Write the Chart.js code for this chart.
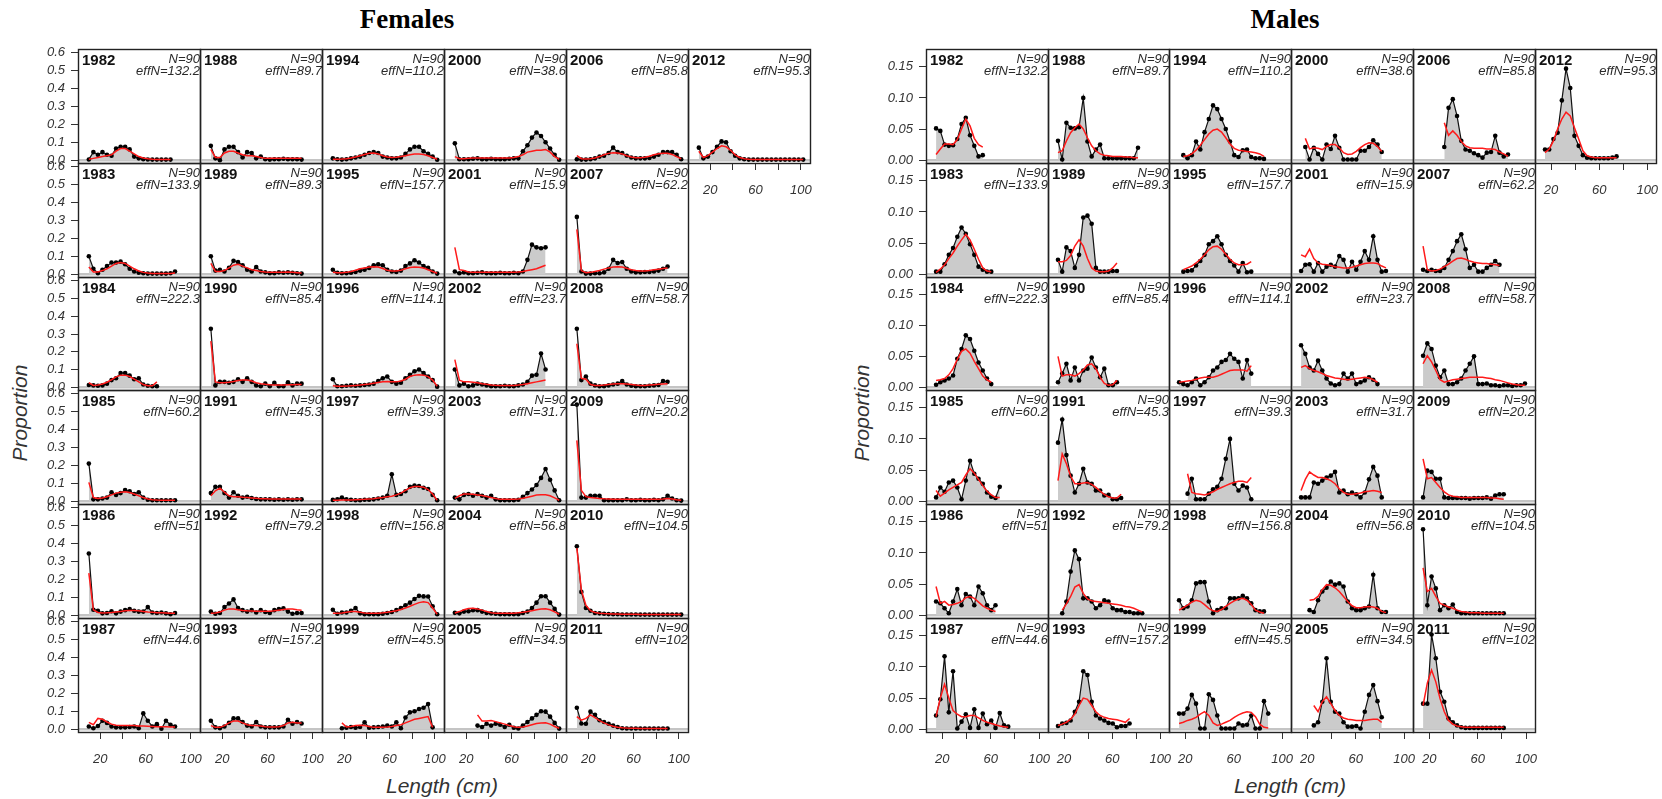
<!DOCTYPE html>
<html>
<head>
<meta charset="utf-8">
<script src="https://cdn.jsdelivr.net/npm/chart.js@4.4.0/dist/chart.umd.min.js"></script>
<style>
  html, body { margin: 0; padding: 0; background: #fff; }
  #stage { position: relative; width: 1662px; height: 799px; overflow: hidden; font-family: 'Liberation Sans', Arial, sans-serif; }
  #stage canvas { position: absolute; }
  .title { position: absolute; font-family: 'Liberation Serif', 'Times New Roman', serif; font-weight: bold; font-size: 27px; transform: translateX(-50%); white-space: nowrap; color: #000; }
  .xlab { position: absolute; font-style: italic; font-size: 21px; transform: translateX(-50%); white-space: nowrap; color: #333; }
  .ylab { position: absolute; font-style: italic; font-size: 21px; transform: translate(-50%, -50%) rotate(-90deg); white-space: nowrap; color: #333; }
</style>
</head>
<body>
<div id="stage">
  <div class="title" style="left:407px; top:4px;">Females</div>
  <div class="title" style="left:1285px; top:4px;">Males</div>
  <div class="ylab" style="left:20px; top:413px;">Proportion</div>
  <div class="ylab" style="left:862px; top:413px;">Proportion</div>
  <div class="xlab" style="left:442px; top:774px;">Length (cm)</div>
  <div class="xlab" style="left:1290px; top:774px;">Length (cm)</div>
</div>
<script>
// ---- survey years and sample sizes ----
const years = [1982,1983,1984,1985,1986,1987,1988,1989,1990,1991,1992,1993,1994,1995,1996,1997,
               1998,1999,2000,2001,2002,2003,2004,2005,2006,2007,2008,2009,2010,2011,2012];
const sampleN = 90;
const effN = ['132.2','133.9','222.3','60.2','51','44.6','89.7','89.3','85.4','45.3','79.2','157.2',
              '110.2','157.7','114.1','39.3','156.8','45.5','38.6','15.9','23.7','31.7','56.8','34.5',
              '85.8','62.2','58.7','20.2','104.5','102','95.3'];

// ---- length bins (cm) ----
const femaleLengths = [10,14,18,22,26,30,34,38,42,46,50,54,58,62,66,70,74,78,82,86,90,94,98,102];
const maleLengths = [15,18.5,22,25.5,29,32.5,36,39.5,43,46.5,50,53.5,57,60.5,64,67.5,71,74.5,78,81.5,85,88.5,92,95.5,99];

// ---- axis ticks ----
const femaleYTicks = [0,0.1,0.2,0.3,0.4,0.5,0.6];
const maleYTicks = [0,0.05,0.10,0.15];
const xTicks = [20,40,60,80,100];
const xTickLabels = ['20','','60','','100'];

// ---- females: first bin index, observed and expected proportions per year ----
const femaleStart = [0,0,0,0,0,0, 0,0,0,0,0,0, 0,0,0,0,0,2, 0,0,0,0,0,5, 0,0,0,0,0,0, 0];
const femaleObs = [
  [0.004,0.045,0.03,0.045,0.03,0.025,0.065,0.075,0.075,0.06,0.02,0.01,0.005,0.004,0.003,0.003,0.003,0.003,0.003], // 1982
  [0.1,0.03,0.005,0.025,0.045,0.065,0.065,0.07,0.055,0.03,0.015,0.008,0.005,0.003,0.003,0.003,0.003,0.003,0.005,0.015], // 1983
  [0.012,0.01,0.008,0.01,0.02,0.04,0.05,0.08,0.08,0.065,0.045,0.05,0.015,0.008,0.005,0.005], // 1984
  [0.21,0.01,0.01,0.015,0.02,0.05,0.035,0.045,0.062,0.055,0.04,0.05,0.02,0.008,0.005,0.005,0.005,0.005,0.005,0.005], // 1985
  [0.345,0.03,0.025,0.01,0.012,0.022,0.01,0.02,0.028,0.034,0.025,0.02,0.02,0.045,0.015,0.012,0.015,0.01,0.005,0.012], // 1986
  [0.015,0.005,0.018,0.047,0.035,0.015,0.01,0.01,0.01,0.012,0.015,0.005,0.088,0.047,0.015,0.028,0.002,0.047,0.025,0.015], // 1987
  [0.08,0.01,0.0,0.06,0.075,0.075,0.045,0.015,0.045,0.04,0.01,0.02,0.005,0.003,0.005,0.005,0.008,0.005,0.005,0.005,0.003], // 1988
  [0.1,0.02,0.025,0.015,0.035,0.075,0.068,0.05,0.025,0.015,0.04,0.015,0.01,0.005,0.005,0.01,0.008,0.01,0.008,0.005,0.003], // 1989
  [0.33,0.01,0.03,0.03,0.025,0.03,0.045,0.03,0.05,0.03,0.01,0.005,0.02,0.005,0.025,0.005,0.005,0.028,0.01,0.02,0.02], // 1990
  [0.045,0.08,0.08,0.045,0.02,0.05,0.03,0.02,0.025,0.018,0.012,0.01,0.01,0.01,0.008,0.01,0.008,0.01,0.008,0.01,0.01], // 1991
  [0.02,0.008,0.012,0.045,0.065,0.088,0.04,0.028,0.02,0.028,0.015,0.028,0.018,0.012,0.028,0.034,0.038,0.02,0.008,0.012,0.012], // 1992
  [0.047,0.01,0.005,0.015,0.035,0.06,0.06,0.04,0.02,0.015,0.04,0.015,0.01,0.01,0.01,0.01,0.015,0.053,0.03,0.04,0.032], // 1993
  [0.01,0.005,0.003,0.005,0.01,0.015,0.02,0.03,0.04,0.045,0.04,0.02,0.015,0.01,0.01,0.015,0.035,0.06,0.075,0.075,0.05,0.035,0.02,0.002], // 1994
  [0.025,0.008,0.005,0.005,0.008,0.012,0.02,0.025,0.035,0.05,0.055,0.05,0.025,0.015,0.012,0.02,0.045,0.06,0.078,0.065,0.045,0.035,0.015,0.003], // 1995
  [0.045,0.005,0.005,0.008,0.01,0.008,0.01,0.012,0.015,0.02,0.035,0.05,0.06,0.03,0.02,0.025,0.05,0.07,0.09,0.1,0.08,0.06,0.04,0.003], // 1996
  [0.007,0.01,0.02,0.01,0.008,0.005,0.005,0.008,0.008,0.01,0.015,0.02,0.03,0.15,0.035,0.04,0.055,0.08,0.087,0.085,0.075,0.068,0.035,0.005], // 1997
  [0.03,0.008,0.015,0.015,0.025,0.04,0.01,0.005,0.005,0.005,0.005,0.008,0.012,0.018,0.028,0.04,0.055,0.07,0.09,0.108,0.105,0.104,0.05,0.005], // 1998
  [0.005,0.008,0.012,0.008,0.012,0.038,0.008,0.01,0.012,0.015,0.02,0.015,0.038,0.005,0.065,0.094,0.1,0.113,0.12,0.14,0.01], // 1999
  [0.094,0.005,0.005,0.005,0.008,0.01,0.005,0.005,0.008,0.005,0.005,0.005,0.008,0.01,0.01,0.05,0.083,0.126,0.155,0.135,0.1,0.065,0.03,0.002], // 2000
  [0.015,0.005,0.01,0.005,0.005,0.008,0.01,0.005,0.005,0.005,0.008,0.005,0.005,0.008,0.005,0.015,0.08,0.165,0.15,0.145,0.15], // 2001
  [0.1,0.01,0.02,0.005,0.01,0.02,0.015,0.01,0.005,0.005,0.005,0.008,0.005,0.005,0.01,0.015,0.03,0.065,0.07,0.19,0.1], // 2002
  [0.02,0.01,0.035,0.04,0.03,0.04,0.03,0.02,0.03,0.01,0.005,0.005,0.005,0.005,0.008,0.025,0.045,0.065,0.09,0.13,0.18,0.12,0.06,0.005], // 2003
  [0.013,0.01,0.02,0.022,0.028,0.028,0.02,0.012,0.01,0.008,0.005,0.005,0.005,0.005,0.005,0.012,0.02,0.04,0.07,0.106,0.106,0.07,0.035,0.003], // 2004
  [0.02,0.012,0.03,0.02,0.03,0.025,0.012,0.025,0.008,0.004,0.02,0.04,0.06,0.08,0.1,0.098,0.07,0.035,0.003], // 2005
  [0.005,0.003,0.003,0.005,0.01,0.02,0.025,0.04,0.07,0.045,0.04,0.025,0.015,0.01,0.01,0.01,0.012,0.02,0.03,0.045,0.045,0.045,0.03,0.005], // 2006
  [0.32,0.015,0.003,0.003,0.005,0.005,0.01,0.03,0.08,0.062,0.068,0.03,0.015,0.01,0.01,0.012,0.012,0.015,0.02,0.03,0.043], // 2007
  [0.33,0.04,0.06,0.02,0.01,0.005,0.005,0.01,0.015,0.02,0.035,0.015,0.008,0.005,0.005,0.005,0.008,0.01,0.012,0.035,0.03], // 2008
  [0.54,0.02,0.02,0.03,0.03,0.03,0.005,0.005,0.005,0.005,0.005,0.01,0.005,0.005,0.008,0.005,0.005,0.008,0.005,0.01,0.03,0.015,0.005,0.003], // 2009
  [0.385,0.13,0.04,0.025,0.012,0.01,0.008,0.006,0.005,0.005,0.004,0.004,0.004,0.004,0.003,0.003,0.003,0.003,0.003,0.003,0.003,0.003,0.003,0.003], // 2010
  [0.12,0.032,0.03,0.098,0.08,0.05,0.04,0.03,0.02,0.012,0.005,0.004,0.004,0.004,0.004,0.004,0.004,0.004,0.004,0.004,0.004], // 2011
  [0.07,0.01,0.02,0.045,0.075,0.105,0.1,0.05,0.025,0.01,0.005,0.003,0.003,0.003,0.003,0.003,0.003,0.003,0.003,0.003,0.003,0.003,0.003,0.003]  // 2012
];
const femaleExp = [
  [0.005,0.01,0.015,0.02,0.025,0.03,0.05,0.065,0.065,0.05,0.035,0.02,0.012,0.008,0.005,0.004,0.003,0.003,0.003], // 1982
  [0.04,0.012,0.012,0.02,0.03,0.045,0.06,0.065,0.06,0.045,0.03,0.018,0.01,0.006,0.004,0.003,0.003,0.003,0.004,0.006], // 1983
  [0.025,0.01,0.012,0.018,0.028,0.042,0.058,0.068,0.068,0.06,0.045,0.03,0.015,0.008,0.008,0.03], // 1984
  [0.105,0.02,0.015,0.018,0.025,0.035,0.045,0.05,0.052,0.048,0.04,0.03,0.02,0.012,0.008,0.006,0.005,0.005,0.005,0.005], // 1985
  [0.235,0.03,0.015,0.012,0.013,0.015,0.018,0.021,0.024,0.026,0.026,0.024,0.021,0.018,0.016,0.014,0.013,0.012,0.011,0.01], // 1986
  [0.038,0.025,0.06,0.055,0.04,0.028,0.022,0.02,0.02,0.02,0.02,0.018,0.017,0.016,0.015,0.014,0.013,0.013,0.012,0.012], // 1987
  [0.06,0.015,0.015,0.04,0.05,0.05,0.04,0.03,0.025,0.025,0.02,0.015,0.01,0.01,0.01,0.01,0.01,0.01,0.01,0.01,0.01], // 1988
  [0.06,0.015,0.015,0.02,0.035,0.05,0.055,0.045,0.035,0.025,0.02,0.015,0.012,0.01,0.01,0.01,0.01,0.012,0.01,0.008,0.006], // 1989
  [0.26,0.03,0.025,0.025,0.028,0.032,0.038,0.04,0.04,0.035,0.025,0.02,0.016,0.014,0.013,0.013,0.013,0.014,0.014,0.015,0.015], // 1990
  [0.03,0.058,0.073,0.05,0.03,0.025,0.025,0.022,0.02,0.018,0.016,0.014,0.013,0.012,0.012,0.012,0.012,0.012,0.012,0.012,0.012], // 1991
  [0.01,0.012,0.018,0.028,0.035,0.035,0.03,0.026,0.024,0.023,0.022,0.022,0.022,0.022,0.024,0.028,0.032,0.035,0.034,0.03,0.028], // 1992
  [0.02,0.01,0.01,0.02,0.035,0.045,0.045,0.035,0.025,0.02,0.02,0.018,0.014,0.012,0.012,0.014,0.02,0.035,0.038,0.035,0.035], // 1993
  [0.005,0.005,0.006,0.008,0.012,0.018,0.025,0.032,0.038,0.04,0.035,0.025,0.018,0.015,0.016,0.02,0.025,0.03,0.035,0.035,0.032,0.025,0.015,0.005], // 1994
  [0.01,0.008,0.008,0.01,0.015,0.022,0.03,0.035,0.04,0.042,0.04,0.032,0.022,0.018,0.018,0.022,0.03,0.037,0.04,0.038,0.034,0.025,0.015,0.005], // 1995
  [0.008,0.005,0.005,0.006,0.008,0.01,0.012,0.015,0.018,0.022,0.026,0.03,0.032,0.03,0.03,0.035,0.045,0.06,0.068,0.07,0.068,0.06,0.04,0.005], // 1996
  [0.005,0.005,0.006,0.006,0.007,0.008,0.009,0.01,0.012,0.014,0.017,0.02,0.024,0.028,0.035,0.045,0.06,0.075,0.082,0.082,0.078,0.065,0.04,0.005], // 1997
  [0.01,0.01,0.012,0.016,0.02,0.02,0.016,0.012,0.01,0.01,0.011,0.013,0.016,0.02,0.025,0.032,0.04,0.05,0.06,0.07,0.075,0.07,0.04,0.005], // 1998
  [0.035,0.012,0.015,0.02,0.022,0.02,0.015,0.01,0.01,0.01,0.012,0.015,0.02,0.025,0.035,0.045,0.055,0.06,0.065,0.07,0.01], // 1999
  [0.02,0.008,0.008,0.01,0.012,0.012,0.012,0.012,0.012,0.012,0.012,0.012,0.012,0.015,0.02,0.03,0.045,0.05,0.055,0.055,0.06,0.045,0.02,0.005], // 2000
  [0.15,0.025,0.02,0.012,0.01,0.01,0.01,0.01,0.01,0.01,0.01,0.01,0.01,0.01,0.012,0.015,0.02,0.025,0.03,0.04,0.05], // 2001
  [0.155,0.04,0.03,0.03,0.028,0.025,0.02,0.016,0.013,0.011,0.01,0.01,0.01,0.01,0.012,0.015,0.02,0.025,0.03,0.035,0.04], // 2002
  [0.015,0.03,0.04,0.04,0.038,0.035,0.032,0.026,0.02,0.015,0.01,0.01,0.01,0.01,0.012,0.016,0.022,0.028,0.034,0.036,0.036,0.03,0.018,0.005], // 2003
  [0.012,0.02,0.03,0.037,0.038,0.035,0.028,0.02,0.014,0.011,0.01,0.01,0.01,0.011,0.013,0.016,0.02,0.025,0.03,0.035,0.036,0.03,0.018,0.005], // 2004
  [0.08,0.045,0.045,0.048,0.042,0.035,0.028,0.02,0.014,0.01,0.012,0.018,0.025,0.032,0.035,0.036,0.028,0.015,0.005], // 2005
  [0.025,0.008,0.006,0.008,0.012,0.02,0.03,0.038,0.042,0.04,0.035,0.025,0.018,0.014,0.014,0.016,0.022,0.03,0.036,0.038,0.038,0.032,0.02,0.008], // 2006
  [0.25,0.02,0.008,0.01,0.015,0.02,0.028,0.035,0.04,0.042,0.04,0.033,0.025,0.02,0.018,0.018,0.02,0.024,0.028,0.032,0.035], // 2007
  [0.245,0.05,0.045,0.015,0.01,0.01,0.012,0.015,0.018,0.02,0.02,0.018,0.015,0.012,0.01,0.01,0.012,0.014,0.016,0.018,0.02], // 2008
  [0.34,0.06,0.025,0.02,0.018,0.015,0.013,0.012,0.011,0.01,0.01,0.01,0.01,0.01,0.01,0.01,0.01,0.01,0.01,0.012,0.015,0.012,0.008,0.005], // 2009
  [0.375,0.14,0.055,0.025,0.015,0.011,0.009,0.008,0.007,0.006,0.005,0.005,0.005,0.005,0.004,0.004,0.004,0.004,0.004,0.004,0.004,0.004,0.004,0.004], // 2010
  [0.07,0.05,0.06,0.08,0.065,0.048,0.035,0.024,0.016,0.011,0.008,0.006,0.005,0.005,0.004,0.004,0.004,0.004,0.004,0.004,0.004], // 2011
  [0.05,0.015,0.025,0.045,0.065,0.08,0.075,0.055,0.03,0.015,0.008,0.005,0.004,0.003,0.003,0.003,0.003,0.003,0.003,0.003,0.003,0.003,0.003,0.003]  // 2012
];

// ---- males: first bin index, observed and expected proportions per year ----
const maleStart = [0,0,0,0,0,0, 0,0,0,0,1,0, 1,1,0,2,0,0, 1,0,0,0,2,3, 5,0,0,0,0,0, 0];
const maleObs = [
  [0.051,0.047,0.025,0.023,0.024,0.034,0.058,0.068,0.04,0.023,0.006,0.008], // 1982
  [0.004,0.004,0.016,0.031,0.042,0.06,0.075,0.065,0.048,0.031,0.012,0.007,0.004,0.004], // 1983
  [0.004,0.008,0.011,0.014,0.019,0.046,0.062,0.084,0.078,0.059,0.04,0.027,0.014,0.005], // 1984
  [0.006,0.022,0.015,0.03,0.033,0.022,0.003,0.033,0.065,0.044,0.036,0.028,0.014,0.007,0.005,0.023], // 1985
  [0.022,0.019,0.011,0.003,0.022,0.042,0.016,0.034,0.03,0.016,0.046,0.035,0.016,0.008,0.016], // 1986
  [0.022,0.048,0.117,0.027,0.093,0.001,0.012,0.024,0.002,0.032,0.002,0.025,0.008,0.014,0.002,0.026,0.006,0.004], // 1987
  [0.031,0.001,0.06,0.052,0.051,0.053,0.1,0.03,0.006,0.017,0.025,0.003,0.003,0.003,0.003,0.003,0.003,0.003,0.003,0.02], // 1988
  [0.023,0.004,0.043,0.037,0.01,0.031,0.091,0.094,0.081,0.01,0.004,0.004,0.004,0.005,0.005], // 1989
  [0.008,0.022,0.038,0.011,0.032,0.011,0.027,0.03,0.048,0.032,0.016,0.03,0.003,0.003,0.008], // 1990
  [0.094,0.131,0.074,0.041,0.014,0.028,0.052,0.03,0.028,0.017,0.017,0.009,0.01,0.003,0.003,0.005], // 1991
  [0.003,0.022,0.07,0.104,0.09,0.027,0.027,0.022,0.011,0.016,0.024,0.022,0.011,0.008,0.008,0.005,0.005,0.003,0.003,0.003], // 1992
  [0.005,0.009,0.01,0.014,0.028,0.044,0.093,0.087,0.044,0.022,0.017,0.014,0.01,0.009,0.003,0.005,0.005,0.009], // 1993
  [0.008,0.003,0.008,0.03,0.017,0.045,0.066,0.088,0.082,0.066,0.05,0.03,0.008,0.005,0.016,0.017,0.005,0.003,0.003,0.002], // 1994
  [0.004,0.005,0.006,0.014,0.021,0.031,0.048,0.053,0.061,0.048,0.031,0.021,0.014,0.004,0.018,0.003,0.004], // 1995
  [0.008,0.005,0.003,0.008,0.014,0.003,0.008,0.016,0.027,0.032,0.041,0.044,0.054,0.046,0.041,0.014,0.044,0.022], // 1996
  [0.012,0.036,0.003,0.003,0.003,0.012,0.019,0.023,0.036,0.068,0.1,0.028,0.017,0.025,0.022,0.003], // 1997
  [0.024,0.011,0.014,0.024,0.051,0.053,0.053,0.022,0.003,0.008,0.011,0.011,0.027,0.027,0.027,0.031,0.027,0.019,0.008,0.006,0.006], // 1998
  [0.025,0.025,0.033,0.055,0.041,0.001,0.001,0.056,0.047,0.022,0.001,0.001,0.001,0.001,0.009,0.006,0.007,0.022,0.001,0.001,0.045,0.025], // 1999
  [0.021,0.001,0.02,0.01,0.001,0.025,0.018,0.039,0.02,0.001,0.001,0.001,0.001,0.015,0.015,0.021,0.032,0.025,0.013], // 2000
  [0.005,0.015,0.016,0.004,0.018,0.004,0.012,0.015,0.012,0.029,0.023,0.004,0.02,0.007,0.02,0.037,0.023,0.061,0.023,0.004,0.005], // 2001
  [0.068,0.054,0.032,0.027,0.043,0.027,0.014,0.006,0.003,0.005,0.022,0.014,0.022,0.005,0.008,0.011,0.016,0.012,0.005], // 2002
  [0.006,0.006,0.006,0.03,0.028,0.033,0.038,0.041,0.047,0.014,0.017,0.011,0.014,0.011,0.006,0.014,0.035,0.055,0.041,0.006], // 2003
  [0.008,0.005,0.024,0.038,0.044,0.054,0.049,0.051,0.046,0.022,0.011,0.008,0.008,0.011,0.014,0.065,0.011,0.005,0.005], // 2004
  [0.006,0.011,0.044,0.114,0.044,0.028,0.025,0.011,0.004,0.004,0.005,0.001,0.028,0.055,0.071,0.045,0.019], // 2005
  [0.021,0.084,0.098,0.071,0.031,0.017,0.015,0.011,0.008,0.004,0.012,0.013,0.039,0.012,0.006,0.009], // 2006
  [0.007,0.005,0.007,0.005,0.005,0.01,0.023,0.037,0.053,0.064,0.04,0.01,0.015,0.004,0.004,0.01,0.015,0.021,0.015], // 2007
  [0.051,0.071,0.062,0.035,0.016,0.027,0.005,0.005,0.008,0.014,0.027,0.038,0.05,0.005,0.005,0.006,0.003,0.003,0.002,0.003,0.003,0.002,0.003,0.003,0.006], // 2008
  [0.006,0.049,0.047,0.036,0.036,0.006,0.005,0.005,0.005,0.005,0.005,0.004,0.005,0.005,0.005,0.006,0.004,0.009,0.011,0.011], // 2009
  [0.138,0.016,0.062,0.043,0.008,0.016,0.011,0.017,0.005,0.003,0.003,0.003,0.003,0.003,0.003,0.003,0.003,0.003,0.003,0.003], // 2010
  [0.041,0.041,0.152,0.114,0.06,0.044,0.017,0.011,0.006,0.003,0.002,0.002,0.002,0.002,0.002,0.002,0.002,0.002,0.002,0.002], // 2011
  [0.017,0.017,0.034,0.044,0.096,0.147,0.116,0.039,0.023,0.008,0.004,0.003,0.003,0.003,0.003,0.003,0.004,0.006]  // 2012
];
const maleExp = [
  [0.009,0.018,0.026,0.026,0.025,0.033,0.05,0.066,0.055,0.035,0.025,0.021], // 1982
  [0.003,0.008,0.015,0.025,0.034,0.045,0.055,0.064,0.055,0.04,0.024,0.01,0.005,0.004], // 1983
  [0.011,0.012,0.014,0.02,0.03,0.045,0.058,0.062,0.055,0.042,0.03,0.018,0.012,0.008], // 1984
  [0.017,0.008,0.013,0.018,0.022,0.026,0.03,0.042,0.052,0.045,0.035,0.025,0.016,0.01,0.006,0.006], // 1985
  [0.046,0.019,0.022,0.016,0.017,0.019,0.022,0.028,0.03,0.027,0.021,0.015,0.011,0.008,0.006], // 1986
  [0.02,0.05,0.072,0.05,0.03,0.024,0.02,0.02,0.022,0.022,0.018,0.014,0.011,0.009,0.007,0.005,0.004,0.003], // 1987
  [0.012,0.015,0.031,0.044,0.052,0.058,0.05,0.036,0.023,0.015,0.01,0.008,0.007,0.006,0.006,0.006,0.005,0.005,0.004,0.004], // 1988
  [0.02,0.02,0.022,0.03,0.045,0.055,0.045,0.025,0.01,0.005,0.004,0.004,0.005,0.01,0.018], // 1989
  [0.05,0.018,0.02,0.02,0.018,0.022,0.028,0.036,0.038,0.03,0.016,0.006,0.003,0.004,0.011], // 1990
  [0.033,0.076,0.06,0.04,0.028,0.028,0.029,0.03,0.027,0.022,0.016,0.011,0.007,0.005,0.005,0.011], // 1991
  [0.008,0.018,0.03,0.045,0.049,0.035,0.026,0.023,0.022,0.021,0.02,0.019,0.018,0.017,0.016,0.014,0.013,0.011,0.008,0.005], // 1992
  [0.006,0.008,0.011,0.016,0.024,0.038,0.05,0.048,0.038,0.028,0.022,0.019,0.017,0.016,0.015,0.013,0.011,0.017], // 1993
  [0.006,0.007,0.01,0.016,0.024,0.033,0.042,0.048,0.05,0.045,0.036,0.026,0.019,0.016,0.015,0.014,0.013,0.012,0.01,0.006], // 1994
  [0.007,0.01,0.013,0.018,0.024,0.031,0.039,0.044,0.045,0.04,0.032,0.024,0.018,0.015,0.015,0.016,0.02], // 1995
  [0.008,0.009,0.01,0.011,0.013,0.015,0.016,0.016,0.016,0.018,0.021,0.024,0.027,0.028,0.028,0.028,0.026,0.035], // 1996
  [0.044,0.014,0.012,0.011,0.01,0.012,0.015,0.019,0.022,0.025,0.028,0.03,0.032,0.032,0.03,0.038], // 1997
  [0.008,0.012,0.016,0.021,0.024,0.022,0.017,0.011,0.007,0.006,0.009,0.014,0.019,0.023,0.026,0.027,0.024,0.017,0.008,0.005,0.003], // 1998
  [0.009,0.011,0.014,0.016,0.019,0.024,0.028,0.022,0.01,0.006,0.008,0.011,0.014,0.019,0.023,0.026,0.028,0.027,0.02,0.008,0.003,0.002], // 1999
  [0.035,0.018,0.02,0.019,0.017,0.022,0.025,0.025,0.02,0.012,0.009,0.01,0.014,0.02,0.025,0.028,0.027,0.022,0.014], // 2000
  [0.031,0.028,0.04,0.025,0.018,0.016,0.015,0.014,0.012,0.011,0.01,0.01,0.011,0.013,0.015,0.017,0.018,0.018,0.017,0.013,0.01], // 2001
  [0.032,0.035,0.03,0.027,0.025,0.022,0.019,0.017,0.015,0.014,0.013,0.012,0.013,0.014,0.015,0.016,0.015,0.012,0.008], // 2002
  [0.017,0.035,0.047,0.042,0.038,0.038,0.036,0.033,0.028,0.02,0.014,0.011,0.011,0.012,0.013,0.015,0.016,0.017,0.016,0.014], // 2003
  [0.024,0.025,0.03,0.041,0.049,0.048,0.044,0.038,0.03,0.022,0.015,0.012,0.012,0.013,0.014,0.013,0.011,0.006,0.004], // 2004
  [0.038,0.028,0.044,0.052,0.041,0.03,0.022,0.018,0.016,0.015,0.014,0.014,0.014,0.015,0.016,0.016,0.011], // 2005
  [0.06,0.04,0.047,0.04,0.03,0.023,0.02,0.019,0.019,0.019,0.018,0.018,0.017,0.013,0.01,0.006], // 2006
  [0.045,0.007,0.005,0.006,0.008,0.012,0.016,0.021,0.025,0.026,0.024,0.021,0.019,0.018,0.017,0.017,0.016,0.015,0.014], // 2007
  [0.038,0.051,0.041,0.027,0.012,0.008,0.01,0.012,0.013,0.014,0.015,0.016,0.016,0.016,0.016,0.015,0.014,0.012,0.011,0.009,0.007,0.005,0.004,0.003,0.003], // 2008
  [0.068,0.036,0.038,0.03,0.022,0.015,0.01,0.008,0.007,0.006,0.006,0.006,0.006,0.006,0.006,0.006,0.005,0.005,0.004,0.003], // 2009
  [0.076,0.038,0.043,0.03,0.019,0.016,0.013,0.011,0.008,0.006,0.005,0.004,0.004,0.004,0.003,0.003,0.003,0.003,0.003,0.003], // 2010
  [0.038,0.074,0.095,0.076,0.049,0.028,0.014,0.008,0.005,0.004,0.003,0.003,0.003,0.003,0.003,0.003,0.003,0.003,0.003,0.003], // 2011
  [0.012,0.018,0.031,0.05,0.066,0.077,0.071,0.052,0.034,0.015,0.007,0.005,0.004,0.004,0.004,0.004,0.004,0.004]  // 2012
];

// ---- layout of the two panels (6 x 6 grid, years run down each column) ----
const FONT = "'Liberation Sans', Arial, sans-serif";
const PAD = 10;      // spare canvas margin so labels at cell edges are not cut
const AXW = 70;      // width reserved for the y axis in the first column
const AXH = 46;      // height reserved for the x axis under the last cell of a column

const panels = [
  { lengths: femaleLengths, start: femaleStart, obs: femaleObs, exp: femaleExp,
    left: 78, colW: 122, top: 49, rowH: 113.8,
    xMin: 0.44, xMax: 108.9, yMin: -0.0215, yMax: 0.6215, yTicks: femaleYTicks, yDec: 1 },
  { lengths: maleLengths, start: maleStart, obs: maleObs, exp: maleExp,
    left: 926, colW: 121.7, top: 49, rowH: 113.8,
    xMin: 6.7, xMax: 108.1, yMin: -0.0062, yMax: 0.1786, yTicks: maleYTicks, yDec: 2 }
];

// zero reference line, cell frame and the year / sample size labels
const cellDecor = {
  id: 'cellDecor',
  beforeDatasetsDraw(chart) {
    const { ctx, chartArea: a, scales } = chart;
    const y0 = scales.y.getPixelForValue(0);
    ctx.save();
    ctx.strokeStyle = '#c4c4c4';
    ctx.lineWidth = 2.5;
    ctx.beginPath();
    ctx.moveTo(a.left, y0);
    ctx.lineTo(a.right, y0);
    ctx.stroke();
    ctx.restore();
  },
  afterDraw(chart, args, opts) {
    const { ctx, chartArea: a } = chart;
    ctx.save();
    ctx.strokeStyle = '#222';
    ctx.lineWidth = 1.4;
    ctx.strokeRect(a.left + 0.5, a.top + 0.5, a.right - a.left - 1, a.bottom - a.top - 1);
    ctx.fillStyle = '#111';
    ctx.textBaseline = 'alphabetic';
    ctx.textAlign = 'left';
    ctx.font = 'bold 15px ' + FONT;
    ctx.fillText(String(opts.year), a.left + 4, a.top + 16);
    ctx.fillStyle = '#2a2a2a';
    ctx.textAlign = 'right';
    ctx.font = 'italic 13px ' + FONT;
    ctx.fillText('N=' + opts.n, a.right - 1, a.top + 14);
    ctx.fillText('effN=' + opts.effN, a.right - 1, a.top + 26);
    ctx.restore();
  }
};

const stage = document.getElementById('stage');

function buildCell(p, i) {
  const c = Math.floor(i / 6), r = i % 6;
  const showY = c === 0;
  const showX = (i === years.length - 1) || r === 5;
  const x0 = Math.round(p.left + p.colW * c), x1 = Math.round(p.left + p.colW * (c + 1));
  const y0 = Math.round(p.top + p.rowH * r), y1 = Math.round(p.top + p.rowH * (r + 1));
  const w = (x1 - x0 + 1) + 2 * PAD + (showY ? AXW : 0);
  const h = (y1 - y0 + 1) + 2 * PAD + (showX ? AXH : 0);

  const cv = document.createElement('canvas');
  cv.width = w; cv.height = h;
  cv.style.width = w + 'px'; cv.style.height = h + 'px';
  cv.style.left = (x0 - PAD - (showY ? AXW : 0)) + 'px';
  cv.style.top = (y0 - PAD) + 'px';
  stage.appendChild(cv);

  const s = p.start[i];
  const obsPts = p.obs[i].map((v, k) => ({ x: p.lengths[s + k], y: v }));
  const expPts = p.exp[i].map((v, k) => ({ x: p.lengths[s + k], y: v }));

  new Chart(cv, {
    type: 'line',
    data: {
      datasets: [
        { data: expPts, borderColor: '#ff1a1a', borderWidth: 1.5, pointRadius: 0,
          fill: false, tension: 0, order: 0 },
        { data: obsPts, borderColor: '#111', borderWidth: 1.2, backgroundColor: '#cbcbcb',
          fill: 'origin', tension: 0, pointRadius: 2.3, pointBackgroundColor: '#000',
          pointBorderWidth: 0, order: 1 }
      ]
    },
    options: {
      responsive: false, animation: false, events: [],
      layout: { padding: PAD, autoPadding: false },
      plugins: {
        legend: { display: false }, tooltip: { enabled: false },
        cellDecor: { year: years[i], n: sampleN, effN: effN[i] }
      },
      scales: {
        x: {
          type: 'linear', min: p.xMin, max: p.xMax, bounds: 'data', display: showX,
          afterBuildTicks: sc => { sc.ticks = xTicks.map(v => ({ value: v })); },
          afterFit: sc => { if (showX) { sc.height = AXH; sc.paddingLeft = 0; sc.paddingRight = 0; } },
          ticks: { autoSkip: false, maxRotation: 0, padding: 13, color: '#333',
                   font: { family: FONT, size: 13, style: 'italic' },
                   callback: (v, k) => xTickLabels[k] },
          grid: { drawOnChartArea: false, drawTicks: true, tickLength: 6, color: '#333', lineWidth: 1 },
          border: { display: false }
        },
        y: {
          type: 'linear', min: p.yMin, max: p.yMax, bounds: 'data', display: showY,
          afterBuildTicks: sc => { sc.ticks = p.yTicks.map(v => ({ value: v })); },
          afterFit: sc => { if (showY) { sc.width = AXW; sc.paddingTop = 0; sc.paddingBottom = 0; } },
          ticks: { autoSkip: false, padding: 6, color: '#333',
                   font: { family: FONT, size: 13, style: 'italic' },
                   callback: v => Number(v).toFixed(p.yDec) },
          grid: { drawOnChartArea: false, drawTicks: true, tickLength: 7, color: '#333', lineWidth: 1 },
          border: { display: false }
        }
      }
    },
    plugins: [cellDecor]
  });
}

panels.forEach(p => years.forEach((yr, i) => buildCell(p, i)));
</script>
</body>
</html>
